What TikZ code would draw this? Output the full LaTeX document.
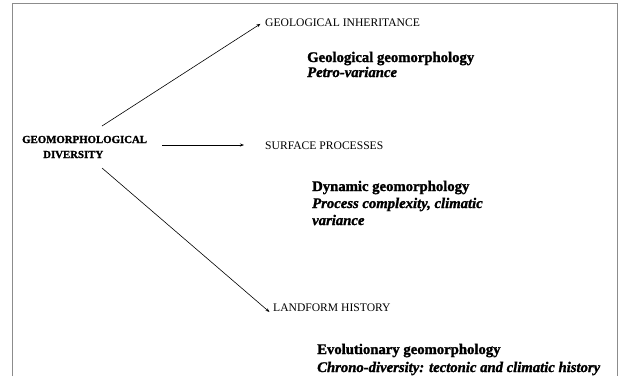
\documentclass[tikz,border=0pt]{standalone}
\usepackage{fontspec}
\setmainfont{Liberation Serif}[BoldFeatures={FakeBold=1.5}, BoldItalicFeatures={FakeBold=1.5}]
\usepackage{xcolor}
\usepackage{tikz}
\usetikzlibrary{arrows.meta}

\begin{document}
\begin{tikzpicture}[x = 1pt,
                    y = -1pt,
                    color = {black}]


  % BOUNDING BOX
  \useasboundingbox (0, 0) rectangle (620, 376);


  % FRAME STYLE
  \definecolor{framecolor_d}{rgb}{ 0.55,0.55,0.55 }
  \tikzstyle{framestyle_d} = [draw=framecolor_d, line width=1 pt]
  \draw[framestyle_d] (12, 376) -- (12, 3) -- (617, 3) -- (617, 376);


  % TEXT STYLES
  \tikzstyle{rootstyle_d} = [anchor=base west, inner sep=0pt, font=\fontsize{10.8}{13}\selectfont\bfseries]
  \tikzstyle{headstyle_d} = [anchor=base west, inner sep=2pt, font=\fontsize{11.6}{14}\selectfont]
  \tikzstyle{notestyle_d} = [anchor=base west, inner sep=0pt, font=\fontsize{14.7}{17}\selectfont\bfseries]
  \tikzstyle{noteitstyle_d} = [notestyle_d, font=\fontsize{14.7}{17}\selectfont\bfseries\itshape]


  % DEF NODES
  \node[rootstyle_d] (div1_t) at (22, 143) {GEOMORPHOLOGICAL};
  \node[rootstyle_d] (div2_t) at (43, 158) {DIVERSITY};

  \node[headstyle_d] (inh_t) at (263, 26) {GEOLOGICAL INHERITANCE};
  \node[headstyle_d] (surf_t) at (263, 149) {SURFACE PROCESSES};
  \node[headstyle_d] (land_t) at (271, 311) {LANDFORM HISTORY};

  \node[notestyle_d] (geo1_t) at (307, 62) {Geological geomorphology};
  \node[noteitstyle_d] (geo2_t) at (307, 77) {Petro-variance};

  \node[notestyle_d] (dyn1_t) at (312, 191) {Dynamic geomorphology};
  \node[noteitstyle_d] (dyn2_t) at (312, 208) {Process complexity, climatic};
  \node[noteitstyle_d] (dyn3_t) at (312, 225) {variance};

  \node[notestyle_d] (evo1_t) at (317, 354) {Evolutionary geomorphology};
  \node[noteitstyle_d] (evo2_t) at (317, 372) {Chrono-diversity: tectonic and climatic history};


  % DEF POINTS
  \coordinate (s1_d) at (102, 126);
  \coordinate (s3_d) at (102, 168);


  % EDGES STYLE
  \tikzstyle{edgestyle_d} = [draw=black, line width=0.6 pt, -{Stealth[length=4pt, width=3pt]}]


  % EDGES
  \draw[edgestyle_d, shorten >=3pt] (s1_d) -- (inh_t.west);
  \draw[edgestyle_d, shorten <=15pt, shorten >=19pt] (div1_t.east |- 0, 145) -- (surf_t.west |- 0, 145);
  \draw[edgestyle_d, shorten >=2pt] (s3_d) -- (land_t.south west);

\end{tikzpicture}
\end{document}
